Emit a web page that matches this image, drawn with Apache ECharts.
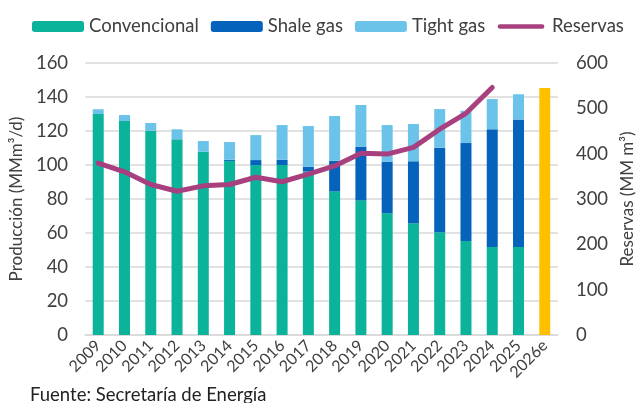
<!DOCTYPE html>
<html>
<head>
<meta charset="utf-8">
<script src="https://cdn.jsdelivr.net/npm/echarts@6/dist/echarts.min.js"></script>
<style>
  html, body { margin: 0; padding: 0; background: #fff; }
  #chart { width: 644px; height: 403px; }
</style>
</head>
<body>
<div id="chart"></div>
<script>
var years = ["2009","2010","2011","2012","2013","2014","2015","2016","2017","2018","2019","2020","2021","2022","2023","2024","2025","2026e"];
var convencional = [130, 125.9, 120.2, 115.1, 107.8, 102.4, 100, 100, 96.1, 84.5, 79.2, 71.6, 65.7, 60.4, 55.3, 51.8, 51.8, null];
var shaleGas = [0, 0, 0, 0, 0, 0.7, 2.9, 3.1, 2.9, 18, 31.6, 30.4, 36.5, 49.8, 57.6, 69.2, 74.9, null];
var tightGas = [2.8, 3.5, 4.5, 5.9, 6.3, 10.4, 14.7, 20.4, 23.9, 26.3, 24.5, 21.5, 21.9, 22.7, 19, 17.8, 14.9, null];
var estimado = [null, null, null, null, null, null, null, null, null, null, null, null, null, null, null, null, null, 145.3];
var reservas = [379, 360, 332, 317, 329, 332, 348, 338, 355, 373, 401, 399, 414, 454, 489, 546, null, null];

var txt = '#404040';
var font = 'Lato';

var myChart = echarts.init(document.getElementById('chart'));

// linea gruesa para la leyenda de Reservas (sin marcador)
var lineIcon = 'path://M0,0 M3,3.5 L49,3.5 A2.5,2.5 0 0 1 49,8.5 L3,8.5 A2.5,2.5 0 0 1 3,3.5 Z M52,12';

var option = {
    animation: false,
    textStyle: { fontFamily: font, color: txt },
    legend: {
        top: 17,
        left: 32,
        width: 612,
        padding: 0,
        itemWidth: 52,
        itemHeight: 11,
        itemGap: 12,
        textStyle: { fontFamily: font, fontSize: 18.5, color: txt },
        data: ['Convencional', 'Shale gas', 'Tight gas', { name: 'Reservas', icon: lineIcon }]
    },
    grid: { left: 85, right: 79, top: 63, bottom: 68 },
    xAxis: {
        type: 'category',
        data: years,
        axisTick: { show: false },
        axisLine: { lineStyle: { color: '#d9d9d9', width: 1.5 } },
        axisLabel: { rotate: 45, fontSize: 16, color: txt, fontFamily: font, margin: 8, interval: 0 }
    },
    yAxis: [{
        type: 'value',
        min: 0, max: 160, interval: 20,
        name: 'Producción (MMm³/d)',
        nameLocation: 'middle',
        nameGap: 59,
        nameTextStyle: { fontSize: 17, color: txt, fontFamily: font },
        axisLabel: { fontSize: 18.5, color: txt, fontFamily: font, margin: 17 },
        splitLine: { lineStyle: { color: '#d9d9d9', width: 1.5 } }
    }, {
        type: 'value',
        min: 0, max: 600, interval: 100,
        name: 'Reservas (MM m³)',
        nameLocation: 'middle',
        nameGap: 59,
        nameRotate: 90,
        nameTextStyle: { fontSize: 17, color: txt, fontFamily: font },
        axisLabel: { fontSize: 18.5, color: txt, fontFamily: font, margin: 18 },
        splitLine: { show: false }
    }],
    series: [{
        name: 'Convencional',
        type: 'bar',
        stack: 'prod',
        barWidth: 11,
        itemStyle: { color: '#0BB39B' },
        data: convencional
    }, {
        name: 'Shale gas',
        type: 'bar',
        stack: 'prod',
        itemStyle: { color: '#0563BB' },
        data: shaleGas
    }, {
        name: 'Tight gas',
        type: 'bar',
        stack: 'prod',
        itemStyle: { color: '#6CC3EA' },
        data: tightGas
    }, {
        name: 'Estimado',
        type: 'bar',
        stack: 'prod',
        itemStyle: { color: '#FFC000' },
        data: estimado
    }, {
        name: 'Reservas',
        type: 'line',
        yAxisIndex: 1,
        symbol: 'none',
        lineStyle: { color: '#A8407F', width: 5, cap: 'round' },
        itemStyle: { color: '#A8407F' },
        data: reservas
    }],
    graphic: [{
        type: 'text',
        left: 30,
        top: 386,
        style: { text: 'Fuente: Secretaría de Energía', font: '18.5px Lato', fill: '#222' }
    }]
};

myChart.setOption(option);
</script>
</body>
</html>
